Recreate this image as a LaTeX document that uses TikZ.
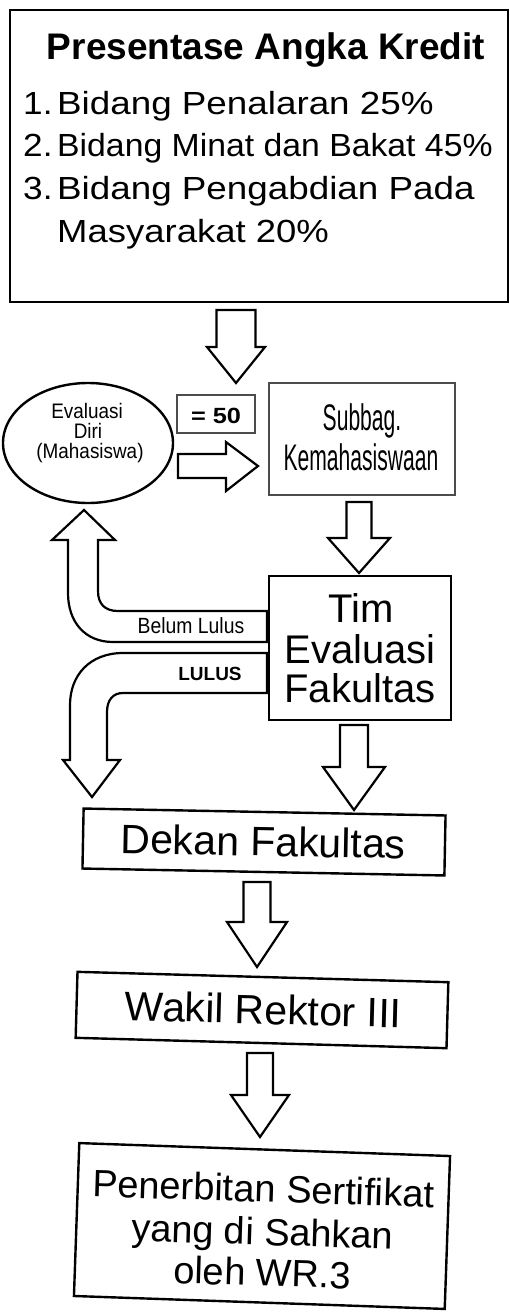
\documentclass[tikz,border=0pt]{standalone}
\usepackage{fontspec}
\setmainfont{Liberation Sans}
\usepackage{graphicx}
\usetikzlibrary{shapes.geometric}
\newcommand{\fs}[1]{\fontsize{#1}{#1}\selectfont}
\newcommand{\dnarrow}[6]{% cx, ytop, yhead, ytip, shaft half, head half
  \draw[blk] ({#1-#5},#2) -- ({#1+#5},#2) -- ({#1+#5},#3) -- ({#1+#6},#3) -- (#1,#4)
    -- ({#1-#6},#3) -- ({#1-#5},#3) -- cycle;}
\begin{document}
\begin{tikzpicture}[x=1pt,y=-1pt,
  box/.style={draw, line width=2.4pt, inner sep=0pt},
  thinbox/.style={draw=black!70, line width=1.3pt, inner sep=0pt},
  blk/.style={draw, line width=2.2pt, fill=white, line join=miter},
  txt/.style={inner sep=0pt, anchor=base},
  ltxt/.style={inner sep=0pt, anchor=base west}]
\useasboundingbox (0,0) rectangle (509,1316);
\fill[white] (0,0) rectangle (509,1316);

% top box
\node[box, minimum width=498pt, minimum height=292pt] (kredit) at (259,156) {};
\node[txt, font=\fs{37}\bfseries] (title) at (266,60) {Presentase Angka Kredit};
\node[ltxt, font=\fs{32}] (n1) at (23,115) {\scalebox{1.1}[1]{1.}};
\node[ltxt, font=\fs{32}] (l1) at (57,115) {\scalebox{1.15}[1]{Bidang Penalaran 25\%}};
\node[ltxt, font=\fs{32}] (n2) at (23,157) {\scalebox{1.1}[1]{2.}};
\node[ltxt, font=\fs{32}] (l2) at (57,157) {\scalebox{1.055}[1]{Bidang Minat dan Bakat 45\%}};
\node[ltxt, font=\fs{32}] (n3) at (23,200) {\scalebox{1.1}[1]{3.}};
\node[ltxt, font=\fs{32}] (l3) at (57,200) {\scalebox{1.15}[1]{Bidang Pengabdian Pada}};
\node[ltxt, font=\fs{32}] (l4) at (57,242) {\scalebox{1.14}[1]{Masyarakat 20\%}};

% arrow from top box
\dnarrow{236}{310}{347}{383}{19.5}{29}

% ellipse
\node[draw, ellipse, line width=2.4pt, minimum width=170pt, minimum height=120pt, inner sep=0pt] (evaluasi) at (88,443) {};
\node[txt, font=\fs{21}] (e1) at (87,418) {\scalebox{0.9}[1]{Evaluasi}};
\node[txt, font=\fs{21}] (e2) at (88,438) {\scalebox{0.9}[1]{Diri}};
\node[txt, font=\fs{21}] (e3) at (90,458) {\scalebox{0.9}[1]{(Mahasiswa)}};

% = 50 box
\node[thinbox, minimum width=78pt, minimum height=38pt] (limit) at (216,414) {};
\node[txt, font=\fs{22}\bfseries] (limittxt) at (216,423) {\scalebox{1.15}[1]{= 50}};

% right arrow
\draw[blk] (178,454) -- (226,454) -- (226,442) -- (258,466) -- (226,491) -- (226,478) -- (178,478) -- cycle;

% Subbag box
\node[thinbox, minimum width=186pt, minimum height=112pt] (subbag) at (362,439) {};
\node[txt, font=\fs{37}] (s1) at (362,430) {\scalebox{0.57}[1]{Subbag.}};
\node[txt, font=\fs{37}] (s2) at (361,470) {\scalebox{0.57}[1]{Kemahasiswaan}};

% arrow subbag -> tim
\dnarrow{359}{502}{538}{573}{12.5}{31}

% Tim box
\node[box, minimum width=182pt, minimum height=144pt] (tim) at (360,648) {};
\node[txt, font=\fs{40}] (t1) at (361,622) {Tim};
\node[txt, font=\fs{40}] (t2) at (360,663) {Evaluasi};
\node[txt, font=\fs{40}] (t3) at (360,702) {Fakultas};

% Belum Lulus arrow (up to ellipse)
\draw[blk] (267,611) -- (118,611) .. controls (105,611) and (98,604) .. (98,591)
  -- (98,540) -- (115,540) -- (84,510) -- (52,540) -- (68,540) -- (68,593)
  .. controls (68,622) and (85,642) .. (113,642) -- (267,642) -- cycle;
\node[txt, font=\fs{22}] (belum) at (191,633) {\scalebox{0.88}[1]{Belum Lulus}};

% LULUS arrow (down to Dekan)
\draw[blk] (267,653) -- (123,653) .. controls (90,653) and (70,675) .. (70,705)
  -- (70,760) -- (63,760) -- (92,797) -- (120,760) -- (107,760) -- (107,712)
  .. controls (107,700) and (113,693) .. (123,693) -- (267,693) -- cycle;
\node[txt, font=\fs{19}\bfseries] (lulus) at (210,680) {LULUS};

% arrow tim -> dekan
\dnarrow{354}{725}{767}{810}{14}{31}

% Dekan box
\node[box, rotate=-1.1, minimum width=362pt, minimum height=60pt] (dekan) at (264,842) {};
\node[txt, rotate=-1.1, font=\fs{41}] (d1) at (263,856) {Dekan Fakultas};

% arrow dekan -> wakil
\dnarrow{257}{882}{922}{967}{13.5}{30}

% Wakil box
\node[box, rotate=-1.6, minimum width=371pt, minimum height=66pt] (wakil) at (262,1010) {};
\node[txt, rotate=-1.5, font=\fs{41}] (w1) at (263,1024) {Wakil Rektor III};

% arrow wakil -> penerbitan
\dnarrow{260}{1053}{1095}{1137}{13}{29}

% Penerbitan box
\node[box, rotate=-2, minimum width=371pt, minimum height=153pt] (terbit) at (262,1226) {};
\node[txt, rotate=-1.8, font=\fs{38}] (p1) at (263,1202) {Penerbitan Sertifikat};
\node[txt, rotate=-1.8, font=\fs{38}] (p2) at (262,1245) {yang di Sahkan};
\node[txt, rotate=-1.8, font=\fs{38}] (p3) at (262,1286) {oleh WR.3};
\end{tikzpicture}
\end{document}
